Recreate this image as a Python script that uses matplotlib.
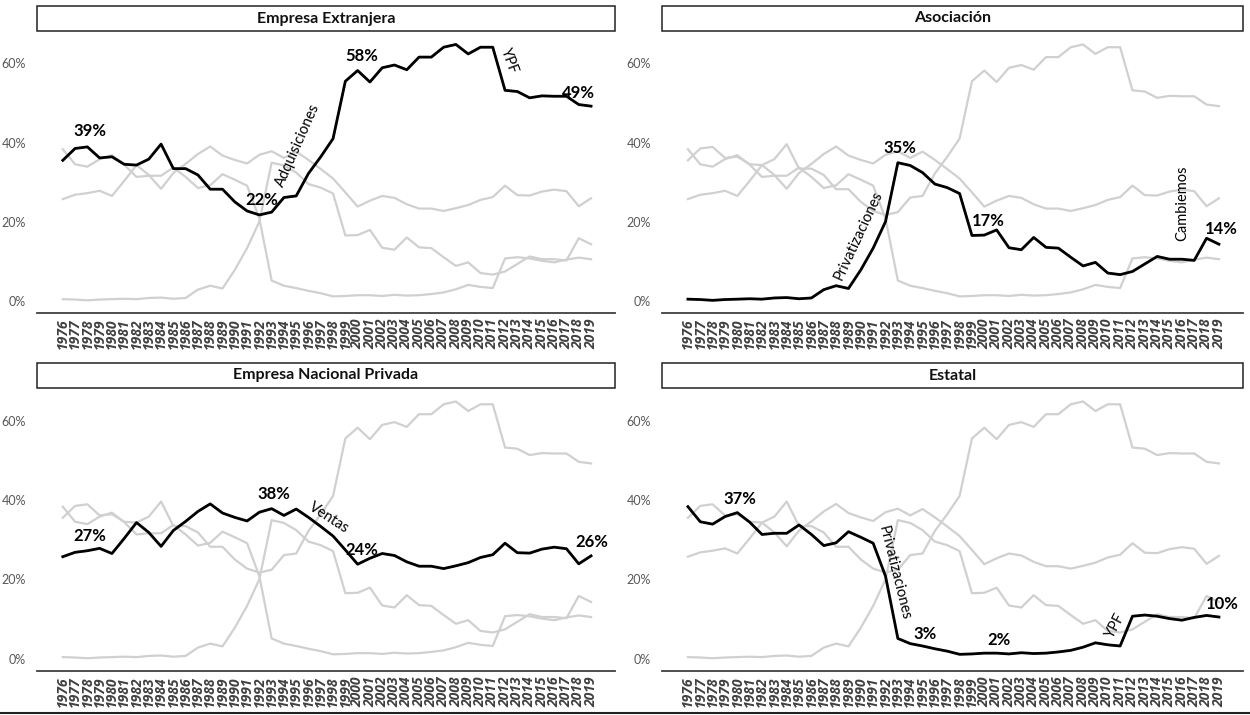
import matplotlib
matplotlib.use("Agg")
import matplotlib.pyplot as plt
from matplotlib.patches import Rectangle
from matplotlib.lines import Line2D

plt.rcParams['font.family'] = ['Lato', 'DejaVu Sans']

years = list(range(1976, 2020))

extranjera = [35.5, 38.5, 38.9, 36.1, 36.4, 34.5, 34.3, 35.8, 39.6, 33.4,
              33.4, 31.8, 28.2, 28.2, 25.0, 22.7, 21.7, 22.4, 26.1, 26.5,
              32.2, 36.4, 41.0, 55.5, 58.2, 55.3, 58.9, 59.6, 58.4, 61.6,
              61.6, 64.1, 64.8, 62.4, 64.1, 64.1, 53.2, 52.9, 51.3, 51.8,
              51.7, 51.7, 49.6, 49.2]

asociacion = [0.4, 0.3, 0.1, 0.3, 0.4, 0.5, 0.4, 0.7, 0.8, 0.5,
              0.7, 2.8, 3.8, 3.1, 7.8, 13.3, 20.0, 34.9, 34.2, 32.4,
              29.5, 28.6, 27.1, 16.5, 16.6, 17.9, 13.4, 12.9, 16.0, 13.5,
              13.3, 11.0, 8.8, 9.7, 7.0, 6.6, 7.4, 9.3, 11.2, 10.5,
              10.5, 10.2, 15.8, 14.3]

nacional = [25.7, 26.8, 27.2, 27.8, 26.5, 30.3, 34.3, 31.8, 28.3, 32.3,
            34.6, 37.1, 39.0, 36.7, 35.6, 34.7, 36.9, 37.8, 36.1, 37.7,
            35.6, 33.3, 30.9, 27.4, 23.8, 25.3, 26.5, 26.0, 24.4, 23.3,
            23.3, 22.7, 23.4, 24.2, 25.5, 26.2, 29.1, 26.7, 26.6, 27.6,
            28.1, 27.7, 23.9, 25.9]

estatal = [38.3, 34.5, 33.9, 35.8, 36.8, 34.4, 31.3, 31.6, 31.6, 33.7,
           31.3, 28.5, 29.2, 32.0, 30.6, 29.1, 20.8, 5.1, 3.8, 3.2,
           2.5, 1.9, 1.1, 1.2, 1.4, 1.4, 1.2, 1.5, 1.3, 1.4,
           1.7, 2.1, 2.9, 4.0, 3.5, 3.2, 10.7, 11.0, 10.7, 10.1,
           9.7, 10.4, 10.9, 10.5]

titles = ["Empresa Extranjera", "Asociación", "Empresa Nacional Privada", "Estatal"]
series = [extranjera, asociacion, nacional, estatal]

# annotations: (text, year, value, rotation, bold)
annotations = [
    [("39%", 1978.2, 42.8, 0, True), ("22%", 1992.2, 25.4, 0, True),
     ("Adquisiciones", 1995.1, 39.3, 66, False), ("58%", 2000.3, 62.0, 0, True),
     ("YPF", 2012.3, 60.7, -70, False), ("49%", 2018.0, 52.6, 0, True)],
    [("35%", 1993.2, 38.5, 0, True), ("Privatizaciones", 1989.8, 16.6, 65, False),
     ("17%", 2000.3, 20.2, 0, True), ("Cambiemos", 2016.0, 24.7, 90, False),
     ("14%", 2019.2, 18.1, 0, True)],
    [("27%", 1978.2, 30.9, 0, True), ("38%", 1993.2, 41.5, 0, True),
     ("Ventas", 1997.7, 35.4, -33, False), ("24%", 2000.3, 27.3, 0, True),
     ("26%", 2019.1, 29.4, 0, True)],
    [("37%", 1980.2, 40.3, 0, True), ("Privatizaciones", 1992.7, 21.5, -76, False),
     ("3%", 1995.2, 6.3, 0, True), ("2%", 2001.2, 4.8, 0, True),
     ("YPF", 2010.6, 8.4, 62, False), ("10%", 2019.3, 13.7, 0, True)],
]

W, H = 1250, 715
fig = plt.figure(figsize=(W / 100, H / 100), dpi=100)

# axes rectangles in pixels: (left, right, top, bottom)
rects = [(37, 615, 31, 313), (662, 1243, 31, 313),
         (37, 615, 388, 671), (662, 1243, 388, 671)]

gray = '#d0d0d0'
for i, (l, r, t, b) in enumerate(rects):
    ax = fig.add_axes([l / W, 1 - b / H, (r - l) / W, (b - t) / H])
    for s in series:
        ax.plot(years, s, color=gray, lw=1.6, zorder=2)
    ax.plot(years, series[i], color='black', lw=2.0, zorder=3)
    ax.set_xlim(1973.9, 2020.95)
    ax.set_ylim(-3.1, 68.2)
    ax.set_yticks([0, 20, 40, 60])
    ax.set_yticklabels(["0%", "20%", "40%", "60%"])
    ax.set_xticks(years)
    ax.set_xticklabels([str(y) for y in years], rotation=90, fontsize=10,
                       fontweight='bold', fontstyle='italic', color='#404040',
                       family=['Open Sans', 'DejaVu Sans'])
    ax.tick_params(axis='y', length=0, pad=8, labelsize=9, labelcolor='#595959')
    ax.tick_params(axis='x', length=0, pad=4)
    for sp in ['top', 'left', 'right']:
        ax.spines[sp].set_visible(False)
    ax.spines['bottom'].set_color('#404040')
    ax.spines['bottom'].set_linewidth(1.3)
    # title box
    boxh = 25 / (b - t)
    ax.add_patch(Rectangle((0, 1.0), 1.0, boxh, transform=ax.transAxes,
                           fill=False, edgecolor='#222222', lw=1.1, clip_on=False))
    ax.text(0.5, 1.0 + boxh / 2, titles[i], transform=ax.transAxes, ha='center',
            va='center', fontsize=11.5, fontweight='bold', color='#111111')
    for (txt, x, y, rot, bold) in annotations[i]:
        ax.text(x, y, txt, ha='center', va='center', rotation=rot,
                rotation_mode='anchor',
                fontsize=12 if bold else 10.5, fontweight='bold' if bold else 'normal',
                color='black', zorder=4)

fig.add_artist(Line2D([0, 1], [1 - 713 / H, 1 - 713 / H], color='#222222', lw=1.5))

fig.savefig("out.png", dpi=100, facecolor='white')
